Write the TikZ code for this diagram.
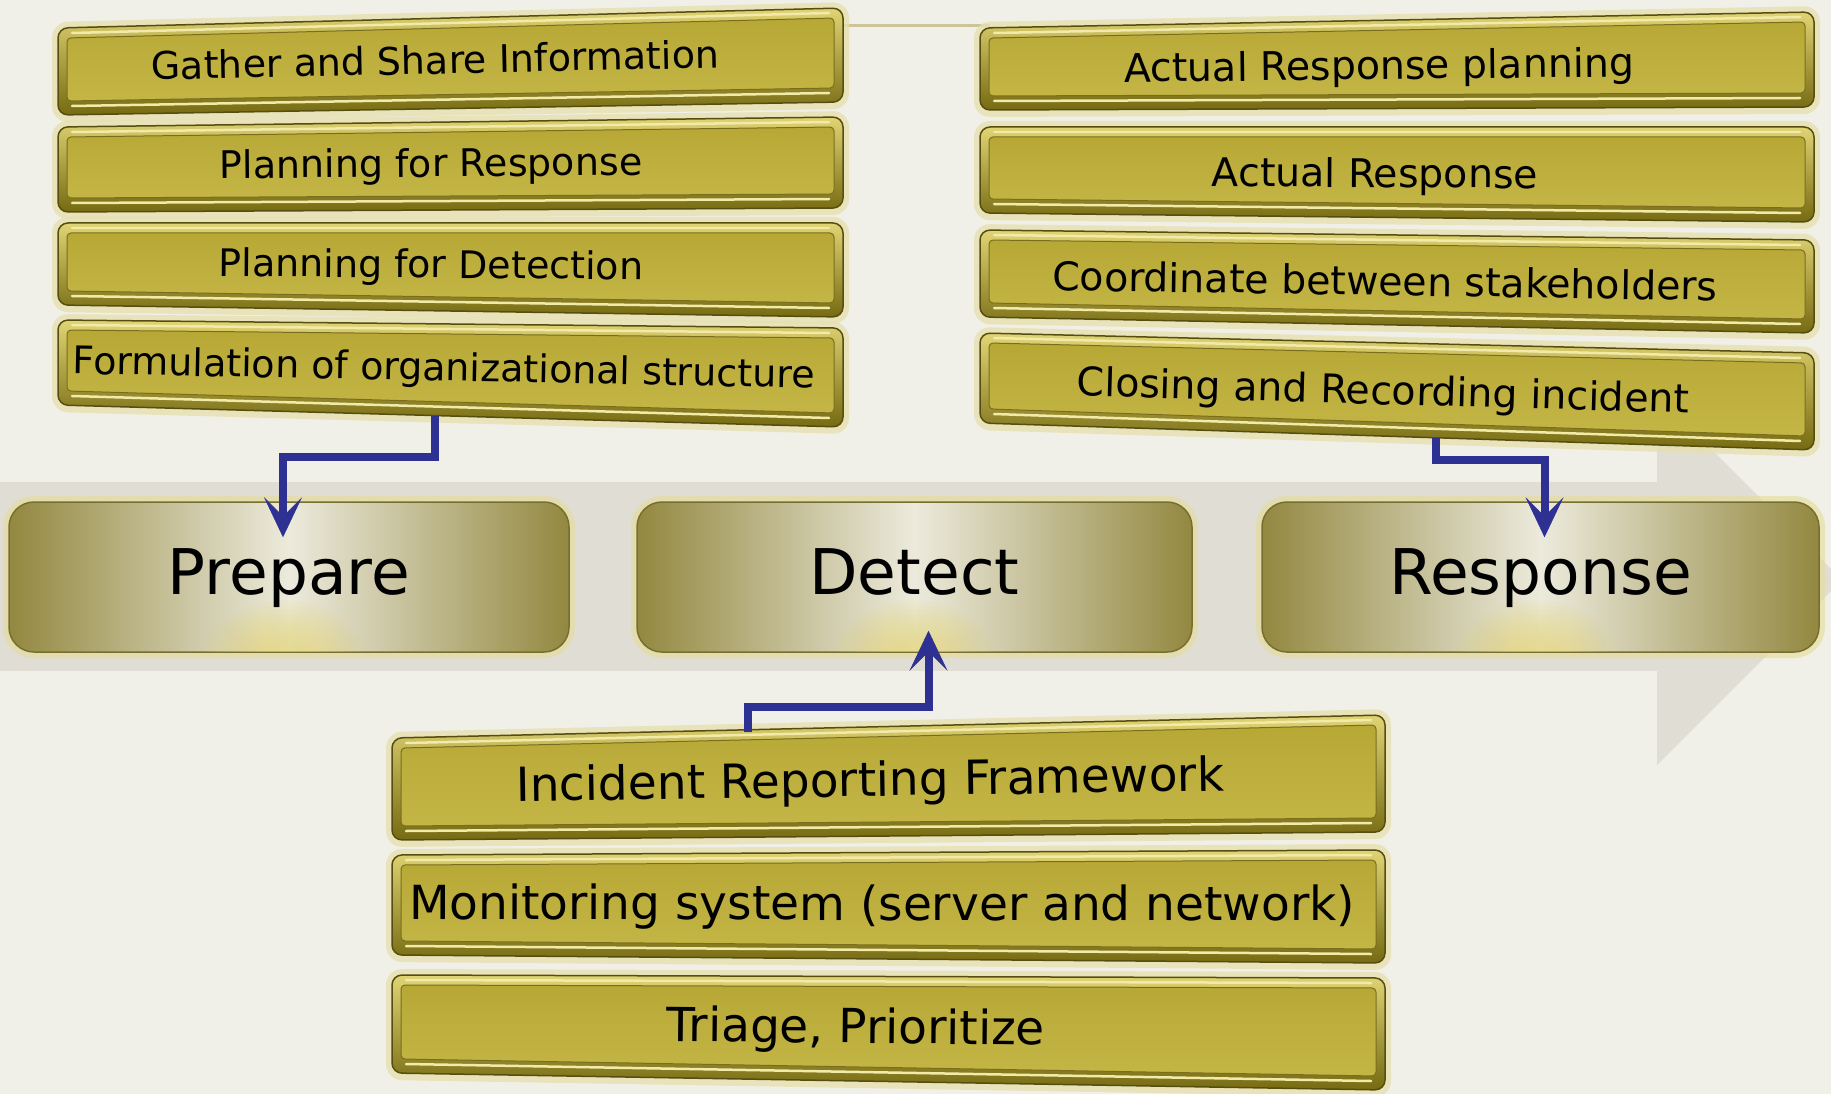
\documentclass[tikz,border=0pt]{standalone}
\usepackage{fontspec}
\setmainfont{DejaVu Sans}
\usetikzlibrary{arrows.meta}
\definecolor{bgc}{HTML}{F0F0E8}
\definecolor{bandc}{HTML}{E0DDD4}
\definecolor{barTop}{HTML}{E0D474}
\definecolor{barBot}{HTML}{766A12}
\definecolor{barEdge}{HTML}{554E0E}
\definecolor{barFaceT}{HTML}{B7A836}
\definecolor{barFaceB}{HTML}{C4B646}
\definecolor{barLine}{HTML}{7A6E1C}
\definecolor{barHi}{HTML}{F2EAA8}
\definecolor{barGlow}{HTML}{E6E0B0}
\definecolor{boxDark}{HTML}{938840}
\definecolor{boxLight}{HTML}{ECEADC}
\definecolor{boxEdge}{HTML}{786E2E}
\definecolor{boxGlow}{HTML}{E4DC96}
\definecolor{sunc}{HTML}{E4D25A}
\definecolor{arrBlue}{HTML}{2E3192}
\definecolor{topline}{HTML}{CDC597}
\newcommand\goldbar[6]{%
  \fill[barGlow, opacity=0.8, rounded corners=16pt] (#1-6,#3-6) -- (#2+6,#5-6) -- (#2+6,#6+7) -- (#1-6,#4+7) -- cycle;
  \shade[top color=barTop, bottom color=barBot, rounded corners=10pt, draw=barEdge, line width=1.5pt]
    (#1,#3) -- (#2,#5) -- (#2,#6) -- (#1,#4) -- cycle;
  \shade[top color=barFaceT, bottom color=barFaceB, draw=barLine, line width=1pt, rounded corners=4pt]
    (#1+9,#3+10) -- (#2-9,#5+10) -- (#2-9,#6-14) -- (#1+9,#4-14) -- cycle;
  \draw[barHi, line width=2.5pt, line cap=round] (#1+14,#3+5) -- (#2-14,#5+5);
  \draw[barHi, line width=2.5pt, line cap=round] (#1+14,#4-9) -- (#2-14,#6-9);
}
\newcommand\sunglow[2]{%
  \foreach \r in {1,0.92,...,0.2}{\fill[sunc, opacity=0.07] (#1,#2) ellipse ({80*\r} and {58*\r});}
}
\begin{document}
\begin{tikzpicture}[x=1pt,y=-1pt,
  ltxt/.style={inner sep=0pt, text height=27.7pt, text depth=0pt, font=\fontsize{38}{40}\selectfont, text=black},
  rtxt/.style={inner sep=0pt, text height=28.8pt, text depth=0pt, font=\fontsize{39.5}{42}\selectfont, text=black},
  btxt/.style={inner sep=0pt, text height=34.3pt, text depth=0pt, font=\fontsize{47}{50}\selectfont, text=black},
  bigtxt/.style={inner sep=0pt, text height=46pt, text depth=0pt, font=\fontsize{63}{66}\selectfont, text=black},
  phase/.style={rounded corners=25pt, minimum height=150pt, inner sep=0pt,
    left color=boxDark, right color=boxDark, middle color=boxLight,
    draw=boxEdge, line width=1.5pt,
    preaction={draw=boxGlow, line width=12pt, opacity=0.6}},
  arr/.style={draw=arrBlue, line width=8pt,
    -{Stealth[length=40pt, width=38pt, inset=19pt, line width=0.5pt]}}
]
\useasboundingbox (0,0) rectangle (1831,1094);
% background
\fill[bgc] (0,0) rectangle (1831,1094);
\fill[bandc] (0,482) rectangle (1657,671);
\fill[bandc] (1657,395) -- (1831,569) -- (1831,591) -- (1657,765) -- cycle;
\draw[topline, line width=3pt] (840,26) -- (990,26);

% left stack
\goldbar{58}{843}{28}{115}{8}{102}
\goldbar{58}{843}{127}{212}{117}{208}
\goldbar{58}{843}{223}{305}{223}{317}
\goldbar{58}{843}{320}{405}{328}{427}
\node[ltxt, rotate=1.2]   (t1) at (435,60)  {Gather and Share Information};
\node[ltxt, rotate=0.5]   (t2) at (431,163) {Planning for Response};
\node[ltxt, rotate=-0.44] (t3) at (431,264) {Planning for Detection};
\node[ltxt, rotate=-1.1]  (t4) at (444,367) {Formulation of organizational structure};

% right stack
\goldbar{980}{1814}{28}{110}{12}{107}
\goldbar{980}{1814}{127}{213}{127}{222}
\goldbar{980}{1814}{230}{317}{240}{333}
\goldbar{980}{1814}{333}{423}{353}{450}
\node[rtxt, rotate=0.65]  (r1) at (1379,65)  {Actual Response planning};
\node[rtxt, rotate=-0.31] (r2) at (1375,173) {Actual Response};
\node[rtxt, rotate=-0.89] (r3) at (1385,281) {Coordinate between stakeholders};
\node[rtxt, rotate=-1.61] (r4) at (1383,390) {Closing and Recording incident};

% bottom stack
\goldbar{392}{1385}{738}{840}{715}{832}
\goldbar{392}{1385}{855}{955}{850}{963}
\goldbar{392}{1385}{975}{1073}{978}{1090}
\node[btxt, rotate=0.89]  (b1) at (870,779)  {Incident Reporting Framework};
\node[btxt, rotate=-0.09] (b2) at (882,903)  {Monitoring system (server and network)};
\node[btxt, rotate=-0.58] (b3) at (856,1026) {Triage, Prioritize};

% phase boxes
\node[phase, minimum width=560pt] (prep) at (289,577) {};
\node[phase, minimum width=555pt] (det)  at (914.5,577) {};
\node[phase, minimum width=557pt] (resp) at (1540.5,577) {};
\begin{scope}
  \clip[rounded corners=25pt] (9,502) rectangle (569,652);
  \sunglow{285}{658}
\end{scope}
\begin{scope}
  \clip[rounded corners=25pt] (637,502) rectangle (1192,652);
  \sunglow{914}{658}
\end{scope}
\begin{scope}
  \clip[rounded corners=25pt] (1262,502) rectangle (1819,652);
  \sunglow{1536}{658}
\end{scope}
\node[bigtxt] (prept) at ([yshift=6pt]prep.center) {Prepare};
\node[bigtxt] (dett)  at ([yshift=6pt]det.center)  {Detect};
\node[bigtxt] (respt) at ([yshift=6pt]resp.center) {Response};

% connectors
\coordinate (a1s) at (435,416);
\coordinate (a2s) at (1436,438);
\coordinate (a3s) at (748,732);
\draw[arr] (a1s) -- ++(0,41) -| ([xshift=-6pt,yshift=-36pt]prep.north);
\draw[arr] (a2s) -- ++(0,22) -| ([xshift=4pt,yshift=-36pt]resp.north);
\draw[arr] (a3s) -- ++(0,-25) -| ([xshift=14pt,yshift=22pt]det.south);
\end{tikzpicture}
\end{document}
